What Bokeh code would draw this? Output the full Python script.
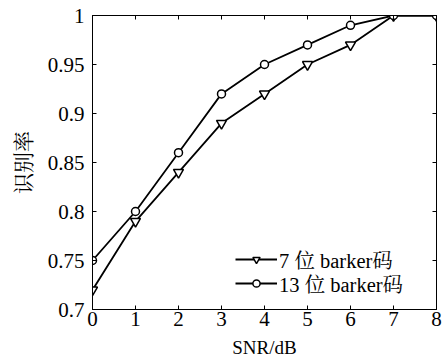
from bokeh.plotting import figure
from bokeh.models import LinearAxis, FixedTicker, Range1d, Legend, LegendItem
from bokeh.embed import file_html
from bokeh.resources import INLINE

snr = [0, 1, 2, 3, 4, 5, 6, 7, 8]
rate7 = [0.72, 0.79, 0.84, 0.89, 0.92, 0.95, 0.97, 1.0, 1.0]
rate13 = [0.75, 0.80, 0.86, 0.92, 0.95, 0.97, 0.99, 1.0, 1.0]
yticks = [0.7, 0.75, 0.8, 0.85, 0.9, 0.95, 1.0]
ytick_labels = ["0.7", "0.75", "0.8", "0.85", "0.9", "0.95", "1"]
xticks = [0, 1, 2, 3, 4, 5, 6, 7, 8]
name7 = "7 位 barker码"
name13 = "13 位 barker码"

SERIF = "Liberation Serif, Noto Serif CJK SC, Noto Sans CJK SC"

p = figure(width=444, height=363, output_backend="svg", toolbar_location=None,
           x_range=Range1d(0, 8), y_range=Range1d(0.7, 1.0),
           min_border_left=92, min_border_right=8, min_border_top=15, min_border_bottom=54)
p.background_fill_color = "white"
p.border_fill_color = "white"
p.outline_line_color = "black"
p.outline_line_width = 1
p.grid.visible = False

for ax in [p.xaxis[0], p.yaxis[0]]:
    ax.axis_line_color = "black"
    ax.major_tick_in = 4
    ax.major_tick_out = 0
    ax.minor_tick_line_color = None
    ax.major_label_text_font = SERIF
    ax.major_label_text_font_size = "21px"
    ax.major_label_text_color = "black"
    ax.axis_label_text_font = SERIF
    ax.axis_label_text_font_style = "normal"
    ax.axis_label_text_font_size = "19px"
    ax.axis_label_text_color = "black"

p.xaxis.ticker = FixedTicker(ticks=xticks)
p.yaxis.ticker = FixedTicker(ticks=yticks)
p.yaxis.major_label_overrides = {t: l for t, l in zip(yticks, ytick_labels)}
p.xaxis.major_label_standoff = 2
p.yaxis.major_label_standoff = 8
p.xaxis.axis_label = "SNR/dB"
p.xaxis.axis_label_standoff = 8
p.yaxis.axis_label = "识别率"
p.yaxis.axis_label_standoff = 9
p.yaxis.axis_label_text_font_size = "21px"

top = LinearAxis(ticker=FixedTicker(ticks=xticks), major_tick_in=4, major_tick_out=0,
                 minor_tick_line_color=None,
                 major_label_overrides={t: "" for t in xticks},
                 major_label_standoff=0, axis_line_color="black")
right = LinearAxis(ticker=FixedTicker(ticks=yticks), major_tick_in=4, major_tick_out=0,
                   minor_tick_line_color=None,
                   major_label_overrides={t: "" for t in yticks},
                   major_label_standoff=0, axis_line_color="black")
p.add_layout(top, "above")
p.add_layout(right, "right")

l7 = p.line(snr, rate7, line_color="black", line_width=1.8)
m7 = p.scatter(snr, rate7, marker="inverted_triangle", size=10, line_color="black",
               line_width=1.5, fill_color="white")
l13 = p.line(snr, rate13, line_color="black", line_width=1.8)
m13 = p.scatter(snr, rate13, marker="circle", size=8, line_color="black",
                line_width=1.5, fill_color="white")

common = dict(border_line_color=None, background_fill_alpha=0, padding=0, margin=0,
              spacing=0, glyph_width=42, glyph_height=18, label_standoff=2,
              label_text_font=SERIF, label_text_font_size="20.5px",
              label_text_color="black", label_height=18)
leg7 = Legend(items=[LegendItem(label=name7, renderers=[l7, m7])],
              location=(143, 35), **common)
leg13 = Legend(items=[LegendItem(label=name13, renderers=[l13, m13])],
               location=(143, 11), **common)
p.add_layout(leg7, "center")
p.add_layout(leg13, "center")

open("out.html", "w").write(file_html(p, INLINE))
